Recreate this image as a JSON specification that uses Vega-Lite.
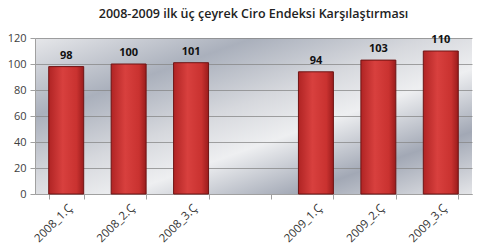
{
  "$schema": "https://vega.github.io/schema/vega-lite/v6.json",
  "width": 437,
  "height": 156,
  "autosize": {"type": "none"},
  "padding": {"left": 35, "top": 38, "right": 8, "bottom": 55},
  "background": "white",
  "title": {
    "text": "2008-2009 ilk üç çeyrek Ciro Endeksi  Karşılaştırması",
    "font": "Open Sans",
    "fontSize": 12.5,
    "fontWeight": 600,
    "color": "#222222",
    "anchor": "middle",
    "offset": 12
  },
  "config": {
    "view": {
      "stroke": null,
      "fill": {
        "gradient": "linear",
        "x1": 0, "y1": 0, "x2": 1, "y2": 1,
        "stops": [
          {"offset": 0, "color": "#e6e7ea"},
          {"offset": 0.25, "color": "#aab0bc"},
          {"offset": 0.45, "color": "#d6d8dd"},
          {"offset": 0.6, "color": "#eeeff1"},
          {"offset": 0.8, "color": "#a2a8b5"},
          {"offset": 1, "color": "#e4e5e8"}
        ]
      }
    },
    "axis": {"labelFont": "Open Sans", "labelColor": "#404040", "labelFontSize": 11}
  },
  "data": {
    "values": [
      {"donem": "2008_1.Ç", "endeks": 98},
      {"donem": "2008_2.Ç", "endeks": 100},
      {"donem": "2008_3.Ç", "endeks": 101},
      {"donem": "2009_1.Ç", "endeks": 94},
      {"donem": "2009_2.Ç", "endeks": 103},
      {"donem": "2009_3.Ç", "endeks": 110}
    ]
  },
  "encoding": {
    "x": {
      "field": "donem",
      "type": "nominal",
      "sort": null,
      "scale": {
        "domain": ["2008_1.Ç", "2008_2.Ç", "2008_3.Ç", "gap", "2009_1.Ç", "2009_2.Ç", "2009_3.Ç"],
        "paddingInner": 0.44,
        "paddingOuter": 0.22
      },
      "axis": {
        "title": null,
        "labelAngle": -45,
        "labelExpr": "datum.value == 'gap' ? '' : datum.value",
        "labelFontSize": 11.5,
        "labelColor": "#333333",
        "domainColor": "#a0a0a0",
        "tickColor": "#a0a0a0",
        "tickBand": "extent",
        "tickSize": 5,
        "labelPadding": 3
      }
    },
    "y": {
      "field": "endeks",
      "type": "quantitative",
      "scale": {"domain": [0, 120]},
      "axis": {
        "title": null,
        "values": [0, 20, 40, 60, 80, 100, 120],
        "domainColor": "#a0a0a0",
        "tickColor": "#a0a0a0",
        "gridColor": "#858585",
        "gridOpacity": 0.75,
        "tickSize": 5,
        "labelPadding": 4
      }
    }
  },
  "layer": [
    {
      "mark": {
        "type": "bar",
        "stroke": "#6e1414",
        "strokeWidth": 1,
        "color": {
          "gradient": "linear",
          "x1": 0, "y1": 0, "x2": 1, "y2": 0,
          "stops": [
            {"offset": 0, "color": "#b02424"},
            {"offset": 0.4, "color": "#d8403e"},
            {"offset": 0.8, "color": "#c93230"},
            {"offset": 1, "color": "#9a1c1c"}
          ]
        }
      }
    },
    {
      "mark": {
        "type": "text",
        "dy": -11,
        "font": "Open Sans",
        "fontSize": 11,
        "fontWeight": "bold",
        "color": "#111111"
      },
      "encoding": {"text": {"field": "endeks", "type": "quantitative"}}
    }
  ]
}
